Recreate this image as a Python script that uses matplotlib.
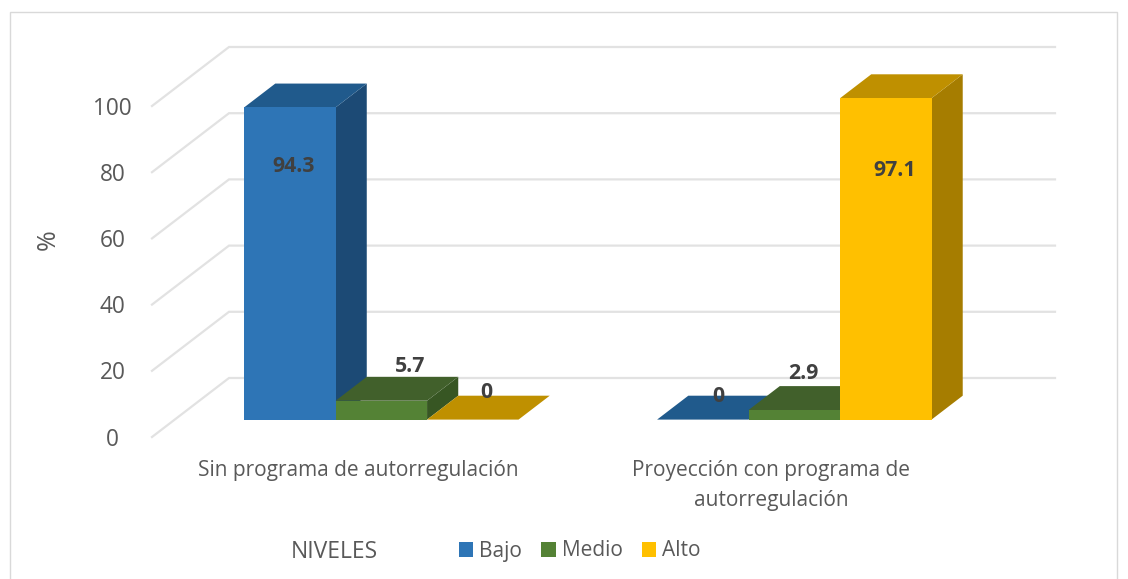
import matplotlib
matplotlib.use("Agg")
import matplotlib.pyplot as plt
from matplotlib.patches import Polygon, Patch, Rectangle

plt.rcParams['font.family'] = ['Open Sans', 'DejaVu Sans']

# Data
categorias = ["Sin programa de autorregulación", "Proyección con programa de\nautorregulación"]
niveles = ["Bajo", "Medio", "Alto"]
bajo = [94.3, 0]
medio = [5.7, 2.9]
alto = [0, 97.1]
etiquetas = [["94.3", "5.7", "0"], ["0", "2.9", "97.1"]]
y_ticks = [0, 20, 40, 60, 80, 100]

# Colours: front, top, side
azul = ("#2E75B6", "#205A8C", "#1C4A75")
verde = ("#548235", "#41602B", "#375623")
oro = ("#FFC000", "#BF9000", "#A67D00")
gris = "#595959"

W, H = 1128, 579
fig = plt.figure(figsize=(W / 100, H / 100), dpi=100)

# Axes = front plane of the 3D box (pixels 152..978 wide, 106..437 high)
ax = fig.add_axes([152 / W, 1 - 437 / H, 826 / W, 331 / H])
ax.set_xlim(0, 2)
ax.set_ylim(0, 100)
ax.axis("off")

# Oblique projection of the depth axis, in data units
dx_full = 77 / 413
dy_full = 59 / 3.31


def proj(x, v, d):
    return (x + d * dx_full, v + d * dy_full)


# Walls and gridlines
col_grid = "#E2E2E2"
for t in y_ticks:
    p0 = proj(0, t, 0)
    p1 = proj(0, t, 1)
    p2 = proj(2, t, 1)
    ax.plot([p0[0], p1[0], p2[0]], [p0[1], p1[1], p2[1]], color=col_grid, lw=1.6,
            solid_joinstyle="miter", clip_on=False, zorder=1)
    ax.text(-0.096, t - 0.8, str(t), ha="center", va="center", fontsize=16.3, color=gris)

# Bars: 3 bars + gap of 1.5 bars in each category
ancho = 0.2215
d0, d1 = 0.295, 0.70


def barra(x0, v, colores, z):
    x1 = x0 + ancho
    if v > 0:
        ax.add_patch(Polygon([proj(x0, 0, d0), proj(x1, 0, d0), proj(x1, v, d0), proj(x0, v, d0)],
                             fc=colores[0], ec="none", zorder=z + 0.2, clip_on=False))
        ax.add_patch(Polygon([proj(x1, 0, d0), proj(x1, 0, d1), proj(x1, v, d1), proj(x1, v, d0)],
                             fc=colores[2], ec="none", zorder=z, clip_on=False))
    ax.add_patch(Polygon([proj(x0, v, d0), proj(x1, v, d0), proj(x1, v, d1), proj(x0, v, d1)],
                         fc=colores[1], ec="none", zorder=z + 0.1, clip_on=False))


series = [bajo, medio, alto]
colores = [azul, verde, oro]
for c in range(2):
    inicio = c + 0.168
    for s in range(3):
        barra(inicio + s * ancho, series[s][c], colores[s], 3 + s)

# Value labels
pos_labels = [[(0.3438, 81.7), (0.6247, 21.2), (0.8087, 13.4)],
              [(1.3705, 12.2), (1.5763, 19.1), (1.7990, 80.5)]]
for c in range(2):
    for s in range(3):
        ax.text(pos_labels[c][s][0], pos_labels[c][s][1], etiquetas[c][s], ha="center", va="center",
                fontsize=15.3, fontweight="bold", color="#404040", zorder=10)

# Category labels
for c, nombre in enumerate(categorias):
    fig.text((358 if c == 0 else 771) / W, 1 - 460 / H, nombre, ha="center", va="top", fontsize=15,
             color=gris, linespacing=1.58)

fig.text(48 / W, 1 - 240 / H, "%", rotation=90, ha="center", va="center", fontsize=18, color=gris)
fig.text(334 / W, 1 - 552 / H, "NIVELES", ha="center", va="center", fontsize=16.5, color=gris)

handles = [Patch(fc=colores[i][0], ec="none", label=niveles[i]) for i in range(3)]
fig.legend(handles=handles, loc="center left", bbox_to_anchor=(444 / W, 1 - 551 / H), ncol=3, frameon=False,
           fontsize=15, labelcolor=gris, handlelength=0.7, handleheight=0.7, handletextpad=0.3,
           columnspacing=0.9, borderpad=0.2)

# Chart border
fig.add_artist(Rectangle((9.5 / W, -0.02), 1107 / W, 1.02 - 11.5 / H, transform=fig.transFigure,
                         fill=False, ec="#D9D9D9", lw=1))

fig.savefig("out.png", dpi=100)
